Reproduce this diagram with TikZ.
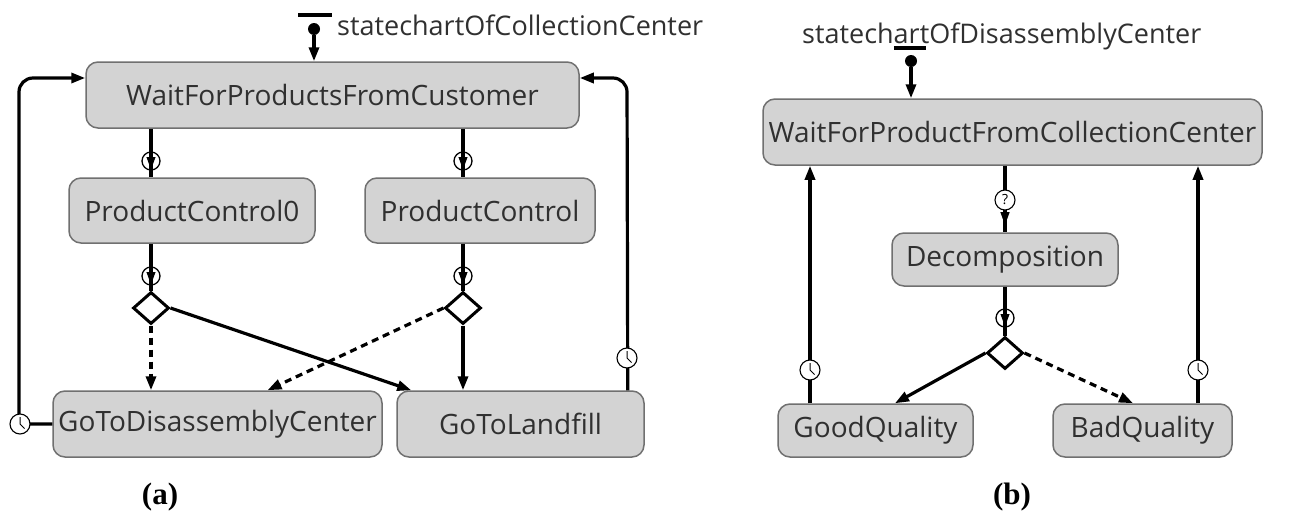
\documentclass[tikz,border=0pt]{standalone}
\usepackage{fontspec}
\newfontfamily\ui{Open Sans}
\newfontfamily\capf{Liberation Serif}
\usetikzlibrary{arrows.meta,shapes.geometric,calc}
\definecolor{stategray}{HTML}{D3D3D3}
\definecolor{bordergray}{HTML}{707070}
\definecolor{textgray}{HTML}{303030}
\begin{document}
\begin{tikzpicture}[x=1pt,y=-1pt,
  state/.style={rounded corners=12pt, draw=bordergray, fill=stategray, line width=1.5pt,
    inner sep=0pt, text=textgray, font=\ui\fontsize{28}{30}\selectfont},
  conn/.style={line width=3.2pt, draw=black},
  arr/.style={-{Triangle[length=14pt,width=10pt]}},
  dsh/.style={dash pattern=on 7pt off 5pt},
  choice/.style={diamond, draw=black, fill=white, line width=3pt, minimum width=36pt,
    minimum height=32pt, inner sep=0pt},
  clock/.style={circle, draw=black, fill=white, line width=1.1pt, minimum size=20pt, inner sep=0pt,
    path picture={\draw[line width=1pt] (path picture bounding box.center) -- ++(0,-7)
      (path picture bounding box.center) -- ++(4.5,4.5);}},
  trig/.style={circle, draw=black, line width=1.3pt, minimum size=18pt, inner sep=0pt},
  qtrig/.style={circle, draw=black, fill=white, line width=1.1pt, minimum size=20pt, inner sep=0pt,
    font=\ui\fontsize{14}{15}\selectfont},
  startdot/.style={circle, fill=black, minimum size=12pt, inner sep=0pt},
  lbl/.style={anchor=base west, inner sep=0pt, text=textgray, font=\ui\fontsize{27}{30}\selectfont},
  captxt/.style={font=\capf\bfseries\fontsize{31}{34}\selectfont, inner sep=0pt}
]
\useasboundingbox (0,0) rectangle (1294,530);
\fill[white] (0,0) rectangle (1294,530);

% ---------------- panel (a) ----------------
\node[state, minimum width=493pt, minimum height=66pt] (W1) at (332.5,95) {WaitForProductsFromCustomer};
\node[state, minimum width=246pt, minimum height=65pt] (PC0) at (192,210.5) {ProductControl0};
\node[state, minimum width=230pt, minimum height=65pt] (PC) at (480,210.5) {ProductControl};
\node[state, minimum width=329pt, minimum height=66pt] (GTD) at (217.5,424) {GoToDisassemblyCenter};
\node[state, minimum width=247pt, minimum height=66pt] (GTL) at (520.5,424) {GoToLandfill};
\node[choice] (D1) at (151,308) {};
\node[choice] (D2) at (463,308) {};

\node[lbl] (L1) at (337,35) {statechartOfCollectionCenter};
\draw[line width=3.2pt] (298,15) -- (332,15);
\node[startdot] (S1) at (314,29) {};
\draw[conn,arr] (S1) -- (S1 |- W1.north);

% W1 -> PC0, PC0 -> D1
\draw[conn] (W1.south -| D1) -- (PC0.north -| D1);
\draw[conn] (PC0.south -| D1) -- (D1.north);
\draw[conn] (W1.south -| D2) -- (PC.north -| D2);
\draw[conn] (PC.south -| D2) -- (D2.north);
\node[trig] (T1) at (151,161) {};
\node[trig] (T2) at (463,161) {};
\node[trig] (T3) at (151,276) {};
\node[trig] (T4) at (463,276) {};
\foreach \t in {T1,T2,T3,T4}{
  \fill ($(\t)+(-4.6,-4)$) -- ($(\t)+(4.6,-4)$) -- ($(\t)+(0,8.5)$) -- cycle;
}

% choice branches
\draw[conn,arr,dsh] (D1.south) -- (D1.south |- GTD.north);
\draw[conn,arr] (D1.east) -- ($(GTL.north west)+(15,0)$);
\draw[conn,arr] (D2.south) -- (D2.south |- GTL.north);
\draw[conn,arr,dsh] (D2.west) -- ($(GTD.north)+(50,0)$);

% loops back
\draw[conn,arr] (GTD.west) -- (19,424) [rounded corners=14pt] -- (19,78) -- (W1.west |- 0,78);
\node[clock] (C1) at (20,424) {};
\draw[conn,arr] ($(GTL.north east)+(-17,0)$) [rounded corners=14pt] -- (627,78) -- (W1.east |- 0,78);
\node[clock] (C2) at (627,358) {};

\node[captxt] (CA) at (160,497) {(a)};

% ---------------- panel (b) ----------------
\node[state, minimum width=499pt, minimum height=66pt] (W2) at (1012.5,132) {WaitForProductFromCollectionCenter};
\node[state, minimum width=226pt, minimum height=53pt] (DEC) at (1005,259.5) {Decomposition};
\node[state, minimum width=195pt, minimum height=53pt] (GQ) at (875.5,430.5) {GoodQuality};
\node[state, minimum width=179pt, minimum height=53pt] (BQ) at (1142.5,430.5) {BadQuality};
\node[choice] (D3) at (1005,353) {};

\node[lbl] (L2) at (802,43) {statechartOfDisassemblyCenter};
\draw[line width=3.2pt] (894,48) -- (926,48);
\node[startdot] (S2) at (911,61) {};
\draw[conn,arr] (S2) -- (S2 |- W2.north);

\draw[conn] (W2.south -| DEC) -- (DEC.north);
\node[qtrig] (Q1) at (1005,200) {?};
\fill (1000.3,212) -- (1009.7,212) -- (1005,225) -- cycle;
\draw[conn] (DEC.south) -- (D3.north);
\node[trig] (T5) at (1005,318) {};
\fill ($(T5)+(-4.6,-4)$) -- ($(T5)+(4.6,-4)$) -- ($(T5)+(0,8.5)$) -- cycle;

\draw[conn,arr] (D3.west) -- ($(GQ.north)+(19.5,0)$);
\draw[conn,arr,dsh] (D3.east) -- ($(BQ.north)+(-9.5,0)$);

\draw[conn,arr] (GQ.north -| 810,0) -- (W2.south -| 810,0);
\node[clock] (C3) at (810,370) {};
\draw[conn,arr] (BQ.north -| 1198,0) -- (W2.south -| 1198,0);
\node[clock] (C4) at (1198,370) {};

\node[captxt] (CB) at (1012,497) {(b)};
\end{tikzpicture}
\end{document}
